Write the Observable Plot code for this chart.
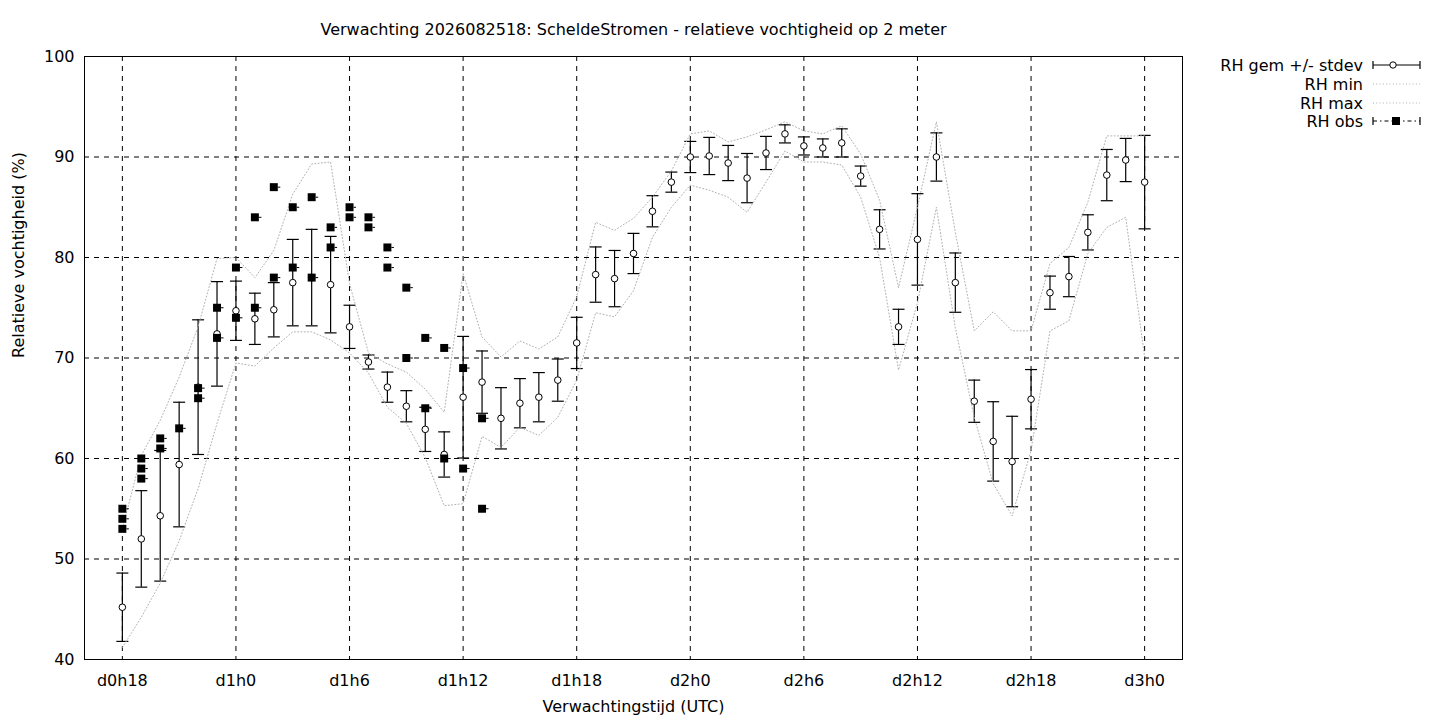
<!DOCTYPE html>
<html><head><meta charset="utf-8">
<script src="https://cdn.jsdelivr.net/npm/d3@7"></script>
<script src="https://cdn.jsdelivr.net/npm/@observablehq/plot@0.6"></script>
<style>
body{margin:0;background:#fff;font-family:"DejaVu Sans",sans-serif;}
#wrap{position:relative;width:1440px;height:720px;overflow:hidden;}
</style></head><body><div id="wrap"></div>
<script>
const hours = [0,1,2,3,4,5,6,7,8,9,10,11,12,13,14,15,16,17,18,19,20,21,22,23,24,25,26,27,28,29,30,31,32,33,34,35,36,37,38,39,40,41,42,43,44,45,46,47,48,49,50,51,52,53,54];
const rhMean = [45.2,52.0,54.3,59.4,67.1,72.4,74.7,73.9,74.8,77.5, 78.0,77.3,73.1,69.6,67.1,65.2,62.9,60.4,66.1,67.6, 64.0,65.5,66.1,67.8,71.5,78.3,77.9,80.4,84.6,87.5, 90.0,90.1,89.4,87.9,90.4,92.3,91.1,90.9,91.4,88.1, 82.8,73.1,81.8,90.0,77.5,65.7,61.7,59.7,65.9,76.5, 78.1,82.5,88.2,89.7,87.5];
const rhStdev = [3.4,4.8,6.5,6.2,6.7,5.2,2.95,2.55,2.7,4.3, 4.8,4.8,2.15,0.7,1.5,1.55,2.2,2.25,6.05,3.1, 3.05,2.45,2.45,2.1,2.55,2.75,2.8,2.0,1.55,1.0, 1.55,1.85,1.75,2.45,1.65,0.9,0.9,0.9,1.4,1.0, 1.95,1.75,4.55,2.4,2.95,2.1,3.95,4.5,2.95,1.65, 2.0,1.75,2.55,2.15,4.65];
const rhMin = [41.2,44.2,47.6,51.8,57.0,63.5,69.5,69.2,71.0,72.6, 72.6,71.8,70.5,68.5,65.1,63.5,60.1,55.3,55.5,62.2, 61.1,63.1,62.3,64.1,67.8,74.5,74.1,76.7,82.0,85.0, 87.2,86.7,86.0,84.5,87.5,90.6,89.5,89.5,89.2,86.0, 80.0,68.8,75.5,85.0,73.0,64.1,57.5,54.3,60.8,72.7, 73.7,80.4,83.0,84.0,70.1];
const rhMax = [53.0,60.3,63.8,68.1,73.1,79.9,80.0,78.0,80.7,86.3, 89.3,89.5,77.4,70.5,69.4,68.6,66.9,64.6,78.4,72.1, 70.1,71.7,70.9,72.1,76.1,83.5,82.7,83.9,86.0,88.6, 92.3,92.6,91.5,92.0,92.7,93.5,92.6,92.3,93.1,90.3, 85.7,77.0,85.0,93.5,82.5,72.7,74.6,72.7,72.7,79.4, 81.0,85.5,92.1,92.1,92.1];
const obsHours = [0,0,0,1,1,1,2,2,3,4,4,5,5,6,6,7,7,8,8,9,9,10,10,11,11,12,12,13,13,14,14,15,15,16,16,17,17,18,18,19,19];
const obsValues = [55,54,53,60,59,58,62,61,63,67,66,75,72,79,74,84,75,87,78,85,79,86,78,83,81,85,84,84,83,81,79,77,70,72,65,71,60,69,59,64,55];
const tickHours = [0,6,12,18,24,30,36,42,48,54];
const tickLabels = ["d0h18","d1h0","d1h6","d1h12","d1h18","d2h0","d2h6","d2h12","d2h18","d3h0"];
const yTicks = [40,50,60,70,80,90,100];
const titleText = "Verwachting 2026082518: ScheldeStromen - relatieve vochtigheid op 2 meter";
const xLabel = "Verwachtingstijd (UTC)";
const yLabel = "Relatieve vochtigheid (%)";
const legendLabels = ["RH gem +/- stdev","RH min","RH max","RH obs"];

const ens = hours.map((h,i)=>({h, mean: rhMean[i], lo: rhMean[i]-rhStdev[i], hi: rhMean[i]+rhStdev[i], min: rhMin[i], max: rhMax[i]}));
const obs = obsHours.map((h,i)=>({h, v: obsValues[i]}));
const labelMap = new Map(tickHours.map((h,i)=>[h, tickLabels[i]]));

const capSymbol = {draw(ctx){ctx.moveTo(-6,0);ctx.lineTo(6,0);}};
const stubSymbol = {draw(ctx){ctx.moveTo(4,0);ctx.lineTo(6.5,0);}};
const gray = "#b0b0b0";
const FS = 16;

const chart = Plot.plot({
  width:1440, height:720,
  marginLeft:84, marginRight:258, marginTop:56, marginBottom:61,
  style:{fontFamily:"'DejaVu Sans', sans-serif", fontSize:FS+"px", color:"black", background:"white", overflow:"visible"},
  x:{domain:[-2,56]},
  y:{domain:[40,100]},
  marks:[
    Plot.gridX(tickHours,{stroke:"black", strokeOpacity:1, strokeWidth:1, strokeDasharray:"5,5"}),
    Plot.gridY(yTicks,{stroke:"black", strokeOpacity:1, strokeWidth:1, strokeDasharray:"5,5"}),
    Plot.ruleX(ens,{x:"h", y1:"lo", y2:"hi", stroke:"black", strokeWidth:1.2}),
    Plot.dot(ens,{x:"h", y:"lo", symbol:capSymbol, r:1, fill:"none", stroke:"black", strokeWidth:1.2}),
    Plot.dot(ens,{x:"h", y:"hi", symbol:capSymbol, r:1, fill:"none", stroke:"black", strokeWidth:1.2}),
    Plot.dot(ens,{x:"h", y:"mean", r:3.3, fill:"white", stroke:"black", strokeWidth:1}),
    Plot.line(ens,{x:"h", y:"min", stroke:gray, strokeWidth:1, strokeDasharray:"1,2.3"}),
    Plot.line(ens,{x:"h", y:"max", stroke:gray, strokeWidth:1, strokeDasharray:"1,2.3"}),
    Plot.dot(obs,{x:"h", y:"v", symbol:"square", r:4.5, fill:"black"}),
    Plot.dot(obs,{x:"h", y:"v", symbol:stubSymbol, r:1, fill:"none", stroke:"black", strokeWidth:1}),
    Plot.frame({stroke:"black", strokeWidth:1}),
    Plot.axisX(tickHours,{tickFormat:d=>labelMap.get(d), tickSize:0, tickPadding:15, label:null}),
    Plot.axisY(yTicks,{tickSize:0, tickPadding:10, label:null}),
    Plot.text([titleText],{frameAnchor:"top", dy:-27, lineAnchor:"middle", fontSize:FS}),
    Plot.text([xLabel],{frameAnchor:"bottom", dy:47, lineAnchor:"middle", fontSize:FS}),
    Plot.text([yLabel],{frameAnchor:"left", dx:-66, rotate:-90, lineAnchor:"middle", fontSize:FS})
  ]
});
const wrap = document.getElementById("wrap");
wrap.appendChild(chart);

// legend (gnuplot-style key at top right)
const lg = d3.create("svg").attr("width",1440).attr("height",720)
  .style("position","absolute").style("left","0").style("top","0");
const rowsY = [65,84,103,121];
const x0 = 1373, x1 = 1420, xm = 1396;
legendLabels.forEach((t,i)=>{
  const y = rowsY[i];
  lg.append("text").attr("x",1363).attr("y",y).attr("text-anchor","end")
    .attr("dominant-baseline","central").attr("font-family","'DejaVu Sans', sans-serif")
    .attr("font-size",FS).attr("fill","black").text(t);
  if (i===0 || i===3) {
    lg.append("line").attr("x1",x0).attr("x2",x1).attr("y1",y).attr("y2",y)
      .attr("stroke","black").attr("stroke-width",1.2)
      .attr("stroke-dasharray", i===3 ? "4,3,1.5,3" : null);
    [x0,x1].forEach(xx=>lg.append("line").attr("x1",xx).attr("x2",xx).attr("y1",y-4).attr("y2",y+4)
      .attr("stroke","black").attr("stroke-width",1.2));
    if (i===0) lg.append("circle").attr("cx",xm-3).attr("cy",y).attr("r",3.2).attr("fill","white").attr("stroke","black");
    else lg.append("rect").attr("x",xm-4).attr("y",y-4).attr("width",8).attr("height",8).attr("fill","black");
  } else {
    lg.append("line").attr("x1",x0).attr("x2",x1).attr("y1",y).attr("y2",y)
      .attr("stroke",gray).attr("stroke-width",1).attr("stroke-dasharray","1,2.3");
  }
});
wrap.appendChild(lg.node());
</script></body></html>
